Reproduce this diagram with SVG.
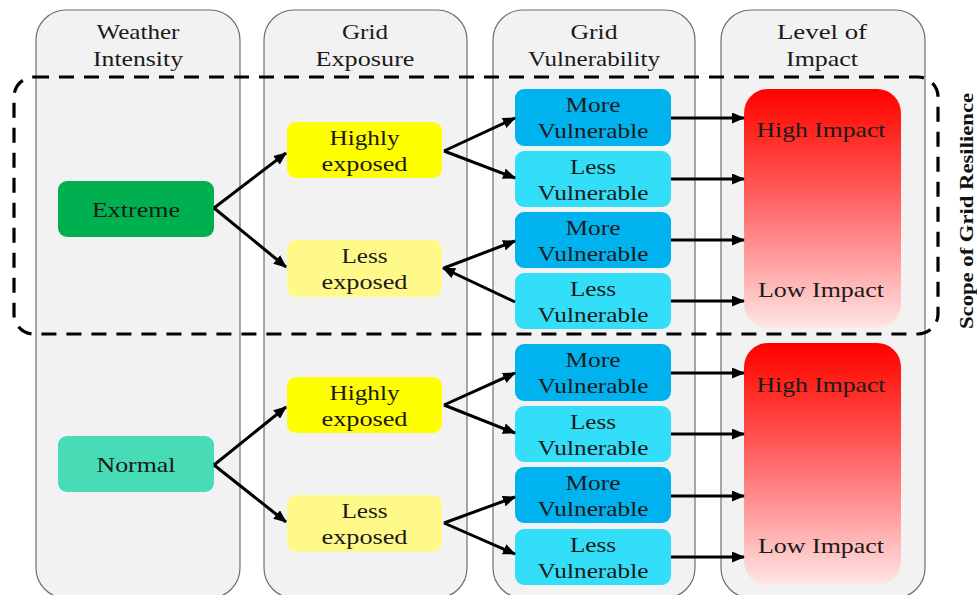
<svg xmlns="http://www.w3.org/2000/svg" width="977" height="595" viewBox="0 0 977 595">
<style>
text{font-family:"Liberation Serif","Times New Roman",serif;font-size:22px;fill:#1a1a1a;text-anchor:middle}
.col{fill:#f2f2f2;stroke:#6f6f6f;stroke-width:1.2}
.ext{fill:#00b050}.nor{fill:#47dcb6}
.hi{fill:#ffff00}.le{fill:#fff98a}
.mv{fill:#00b3ef}.lv{fill:#33def8}
.imp{fill:url(#g)}
.c line{stroke:#000;stroke-width:3;marker-end:url(#a)}
.scope{fill:none;stroke:#000;stroke-width:3.2;stroke-dasharray:15 10}
.lbl{font-weight:bold;font-size:19px;fill:#111}
</style>
<defs>
<linearGradient id="g" x1="0" y1="0" x2="0" y2="1">
<stop offset="0" stop-color="#ff0000"/>
<stop offset="0.13" stop-color="#ff1c14"/>
<stop offset="0.45" stop-color="#ff6060"/>
<stop offset="0.75" stop-color="#ffa6a6"/>
<stop offset="1" stop-color="#ffe6e6"/>
</linearGradient>
<marker id="a" markerUnits="userSpaceOnUse" markerWidth="13" markerHeight="11" refX="12" refY="5.5" orient="auto">
<path d="M0,0 L13,5.5 L0,11 z" fill="#000"/>
</marker>
</defs>

<g id="columns">
<g id="col-weather"><rect class="col" x="36" y="10" width="204" height="588" rx="30"/>
<text x="138" y="39" textLength="83" lengthAdjust="spacingAndGlyphs">Weather</text>
<text x="138" y="66" textLength="90" lengthAdjust="spacingAndGlyphs">Intensity</text></g>
<g id="col-exposure"><rect class="col" x="264" y="10" width="203" height="588" rx="30"/>
<text x="365" y="39" textLength="46" lengthAdjust="spacingAndGlyphs">Grid</text>
<text x="365" y="66" textLength="99" lengthAdjust="spacingAndGlyphs">Exposure</text></g>
<g id="col-vulnerability"><rect class="col" x="493" y="10" width="202" height="588" rx="30"/>
<text x="594" y="39" textLength="47" lengthAdjust="spacingAndGlyphs">Grid</text>
<text x="594" y="66" textLength="132" lengthAdjust="spacingAndGlyphs">Vulnerability</text></g>
<g id="col-impact"><rect class="col" x="721" y="10" width="204" height="588" rx="30"/>
<text x="822" y="39" textLength="90" lengthAdjust="spacingAndGlyphs">Level of</text>
<text x="822" y="66" textLength="72" lengthAdjust="spacingAndGlyphs">Impact</text></g>
</g>

<g id="scope">
<rect class="scope" x="14" y="77" width="924" height="257" rx="20"/>
<text class="lbl" transform="translate(973,211) rotate(-90)" textLength="236" lengthAdjust="spacingAndGlyphs">Scope of Grid Resilience</text>
</g>

<g id="extreme"><rect class="ext" x="58" y="181" width="156" height="56" rx="9"/>
<text x="136" y="217" textLength="88" lengthAdjust="spacingAndGlyphs">Extreme</text></g>
<g id="normal"><rect class="nor" x="58" y="436" width="156" height="56" rx="9"/>
<text x="136" y="472" textLength="79" lengthAdjust="spacingAndGlyphs">Normal</text></g>

<g id="highly-exposed-1"><rect class="hi" x="287" y="122" width="155" height="56" rx="9"/>
<text x="364.5" y="145" textLength="70" lengthAdjust="spacingAndGlyphs">Highly</text>
<text x="364.5" y="171" textLength="86" lengthAdjust="spacingAndGlyphs">exposed</text></g>
<g id="less-exposed-1"><rect class="le" x="287" y="240" width="155" height="57" rx="9"/>
<text x="364.5" y="263" textLength="46" lengthAdjust="spacingAndGlyphs">Less</text>
<text x="364.5" y="289" textLength="86" lengthAdjust="spacingAndGlyphs">exposed</text></g>
<g id="highly-exposed-2"><rect class="hi" x="287" y="377" width="155" height="56" rx="9"/>
<text x="364.5" y="400" textLength="70" lengthAdjust="spacingAndGlyphs">Highly</text>
<text x="364.5" y="426" textLength="86" lengthAdjust="spacingAndGlyphs">exposed</text></g>
<g id="less-exposed-2"><rect class="le" x="287" y="495" width="155" height="57" rx="9"/>
<text x="364.5" y="518" textLength="46" lengthAdjust="spacingAndGlyphs">Less</text>
<text x="364.5" y="544" textLength="86" lengthAdjust="spacingAndGlyphs">exposed</text></g>

<g id="more-vuln-1"><rect class="mv" x="515" y="89" width="156" height="57" rx="9"/>
<text x="593" y="112" textLength="55" lengthAdjust="spacingAndGlyphs">More</text>
<text x="593" y="138" textLength="111" lengthAdjust="spacingAndGlyphs">Vulnerable</text></g>
<g id="less-vuln-1"><rect class="lv" x="515" y="151" width="156" height="56" rx="9"/>
<text x="593" y="174" textLength="46" lengthAdjust="spacingAndGlyphs">Less</text>
<text x="593" y="200" textLength="111" lengthAdjust="spacingAndGlyphs">Vulnerable</text></g>
<g id="more-vuln-2"><rect class="mv" x="515" y="212" width="156" height="56" rx="9"/>
<text x="593" y="235" textLength="55" lengthAdjust="spacingAndGlyphs">More</text>
<text x="593" y="261" textLength="111" lengthAdjust="spacingAndGlyphs">Vulnerable</text></g>
<g id="less-vuln-2"><rect class="lv" x="515" y="273" width="156" height="56" rx="9"/>
<text x="593" y="296" textLength="46" lengthAdjust="spacingAndGlyphs">Less</text>
<text x="593" y="322" textLength="111" lengthAdjust="spacingAndGlyphs">Vulnerable</text></g>
<g id="more-vuln-3"><rect class="mv" x="515" y="344" width="156" height="57" rx="9"/>
<text x="593" y="367" textLength="55" lengthAdjust="spacingAndGlyphs">More</text>
<text x="593" y="393" textLength="111" lengthAdjust="spacingAndGlyphs">Vulnerable</text></g>
<g id="less-vuln-3"><rect class="lv" x="515" y="406" width="156" height="56" rx="9"/>
<text x="593" y="429" textLength="46" lengthAdjust="spacingAndGlyphs">Less</text>
<text x="593" y="455" textLength="111" lengthAdjust="spacingAndGlyphs">Vulnerable</text></g>
<g id="more-vuln-4"><rect class="mv" x="515" y="467" width="156" height="56" rx="9"/>
<text x="593" y="490" textLength="55" lengthAdjust="spacingAndGlyphs">More</text>
<text x="593" y="516" textLength="111" lengthAdjust="spacingAndGlyphs">Vulnerable</text></g>
<g id="less-vuln-4"><rect class="lv" x="515" y="529" width="156" height="56" rx="9"/>
<text x="593" y="552" textLength="46" lengthAdjust="spacingAndGlyphs">Less</text>
<text x="593" y="578" textLength="111" lengthAdjust="spacingAndGlyphs">Vulnerable</text></g>

<g id="impact-1"><rect class="imp" x="744" y="89" width="157" height="239" rx="24"/>
<text x="821" y="137" textLength="129" lengthAdjust="spacingAndGlyphs">High Impact</text>
<text x="821" y="297" textLength="126" lengthAdjust="spacingAndGlyphs">Low Impact</text></g>
<g id="impact-2"><rect class="imp" x="744" y="343" width="157" height="242" rx="24"/>
<text x="821" y="392" textLength="129" lengthAdjust="spacingAndGlyphs">High Impact</text>
<text x="821" y="553" textLength="126" lengthAdjust="spacingAndGlyphs">Low Impact</text></g>

<g id="connectors" class="c">
<line x1="214" y1="208" x2="286" y2="153"/>
<line x1="214" y1="208" x2="286" y2="267"/>
<line x1="444" y1="151" x2="515" y2="118"/>
<line x1="444" y1="151" x2="515" y2="178"/>
<line x1="444" y1="268" x2="515" y2="241"/>
<line x1="515" y1="302" x2="443" y2="268"/>
<line x1="214" y1="465" x2="286" y2="407"/>
<line x1="214" y1="465" x2="286" y2="522"/>
<line x1="444" y1="405" x2="515" y2="373"/>
<line x1="444" y1="405" x2="515" y2="433"/>
<line x1="444" y1="523" x2="515" y2="497"/>
<line x1="444" y1="523" x2="515" y2="554"/>
<line x1="671" y1="118" x2="744" y2="118"/>
<line x1="671" y1="179" x2="744" y2="179"/>
<line x1="671" y1="240" x2="744" y2="240"/>
<line x1="671" y1="301" x2="744" y2="301"/>
<line x1="671" y1="373" x2="744" y2="373"/>
<line x1="671" y1="434" x2="744" y2="434"/>
<line x1="671" y1="496" x2="744" y2="496"/>
<line x1="671" y1="557" x2="744" y2="557"/>
</g>
</svg>
